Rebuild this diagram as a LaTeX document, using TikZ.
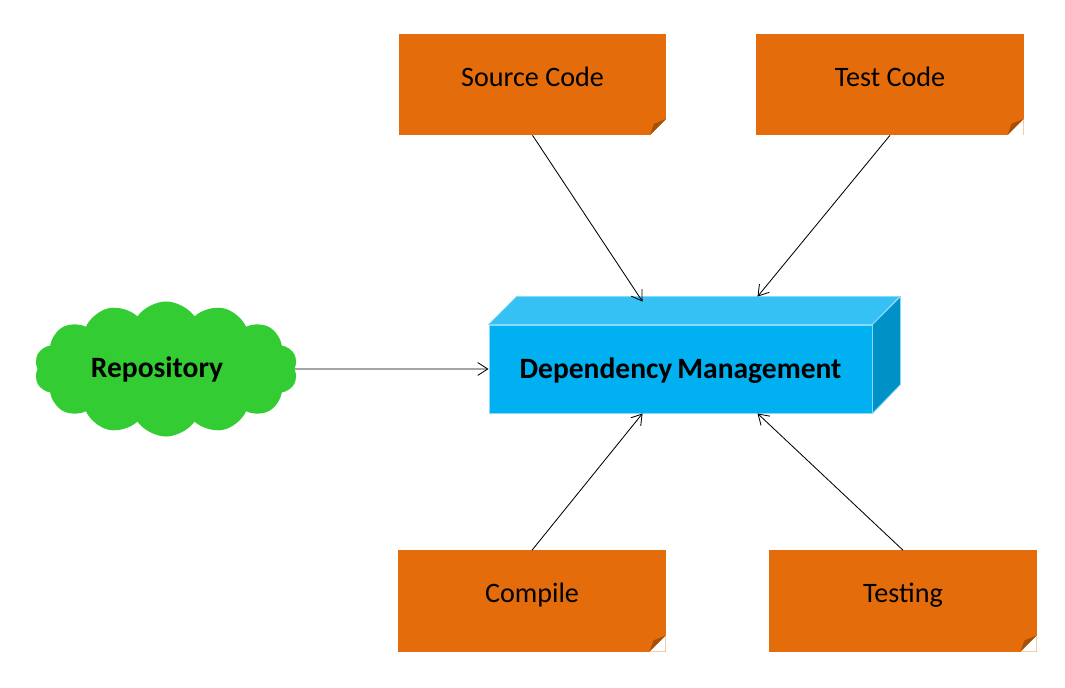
\documentclass[tikz,border=0pt]{standalone}
\usepackage{fontspec}
\setmainfont{Carlito}
\usepackage{tikz}
\usetikzlibrary{shapes.symbols, arrows.meta, calc}
\definecolor{noteorange}{HTML}{E46C0A}
\definecolor{notefold}{HTML}{A84F06}
\definecolor{dmfront}{HTML}{00B0F0}
\definecolor{dmtop}{HTML}{35C1F3}
\definecolor{dmside}{HTML}{0092C6}
\definecolor{dmedge}{HTML}{8AD9F7}
\definecolor{repogreen}{HTML}{33CC33}
\tikzstyle{note} = [rectangle, minimum width=6.675cm, minimum height=2.525cm, text centered, text height=14pt, text depth=11.4pt, fill=noteorange, font=\fontsize{20}{24}\selectfont,
	path picture={
		\fill[white] ([xshift=-0.4cm]path picture bounding box.south east) -- (path picture bounding box.south east) -- ([yshift=0.4cm]path picture bounding box.south east) -- cycle;
		\fill[notefold] ([xshift=-0.4cm]path picture bounding box.south east) -- ([yshift=0.4cm]path picture bounding box.south east) -- ([shift={(-0.3cm,0.28cm)}]path picture bounding box.south east) -- cycle;}]
\tikzstyle{dmbox} = [rectangle, minimum width=9.575cm, minimum height=2.2cm, text centered, text height=14.5pt, text depth=1pt, fill=dmfront, draw=dmedge, line width=0.6pt, font=\fontsize{21}{25}\selectfont\bfseries]
\tikzstyle{repo} = [cloud, cloud puffs=14, cloud puff arc=110, aspect=2.1, minimum width=6.575cm, minimum height=3.375cm, fill=repogreen, font=\fontsize{21}{25}\selectfont\bfseries]
\tikzstyle{arrow} = [line width=0.6pt, ->, >={Straight Barb[length=2.5mm,width=3.2mm]}]

\begin{document}
\begin{tikzpicture}[x=0.025cm, y=0.025cm]
	\useasboundingbox (0,0) rectangle (1065,687);

	\node (src) [note] at (532.5,602.5) {Source Code};
	\node (test) [note] at (890,602.5) {Test Code};
	\node (compile) [note] at (532,86) {Compile};
	\node (testing) [note] at (903,86) {Testing};
	\node (repo) [repo] at (166,318) {Repository\kern0.45cm};
	\node (dm) [dmbox] at (680.5,318) {Dependency\,Management};

	% top and side of the block
	\filldraw [fill=dmtop, draw=dmedge, line width=0.6pt] (dm.north west) -- ++(28,28) -- ++(383,0) -- (dm.north east) -- cycle;
	\filldraw [fill=dmside, draw=dmedge, line width=0.6pt] (dm.north east) -- ++(28,28) -- ++(0,-88) -- (dm.south east) -- cycle;

	\draw [arrow] (repo.east) -- (dm.west);
	\draw [arrow] (src.south) -- ([shift={(154,23)}]dm.north west);
	\draw [arrow] (test.south) -- ([shift={(269,28)}]dm.north west);
	\draw [arrow] (compile.north) -- ([xshift=154*0.025cm]dm.south west);
	\draw [arrow] (testing.north) -- ([xshift=269*0.025cm]dm.south west);

\end{tikzpicture}
\end{document}
